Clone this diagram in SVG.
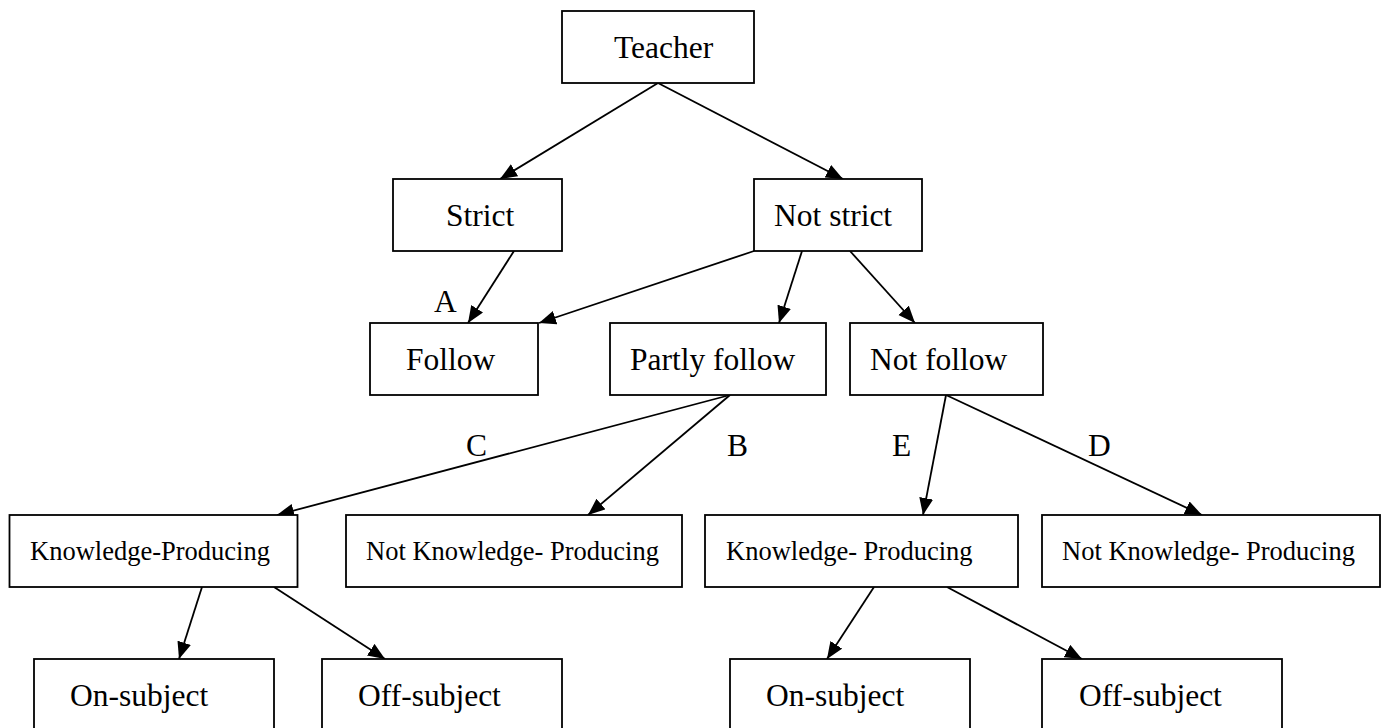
<svg xmlns="http://www.w3.org/2000/svg" width="1385" height="728" viewBox="0 0 1385 728">
  <defs>
    <marker id="arrow" markerUnits="userSpaceOnUse" markerWidth="19" markerHeight="15" refX="17" refY="7" orient="auto">
      <path d="M0,0 L17,7 L0,14 Z" fill="#000"/>
    </marker>
  </defs>
  <style>
    .box { fill: #fff; stroke: #000; stroke-width: 1.8; }
    .lbl { font-family: "Liberation Serif", "Times New Roman", serif; font-size: 31.5px; fill: #000; }
    .sm { font-size: 26.5px; }
    .edge { stroke: #000; stroke-width: 1.8; fill: none; marker-end: url(#arrow); }
  </style>
  <rect width="1385" height="728" fill="#fff"/>

  <!-- connectors -->
  <g id="connectors">
    <line class="edge" x1="658" y1="83" x2="500" y2="179"/>
    <line class="edge" x1="658" y1="83" x2="843" y2="179"/>
    <line class="edge" x1="514" y1="251" x2="468" y2="323"/>
    <line class="edge" x1="754" y1="251" x2="539" y2="323"/>
    <line class="edge" x1="802" y1="251" x2="779" y2="323"/>
    <line class="edge" x1="850" y1="251" x2="915" y2="323"/>
    <line class="edge" x1="730" y1="395" x2="277" y2="515"/>
    <line class="edge" x1="730" y1="395" x2="588" y2="515"/>
    <line class="edge" x1="946" y1="395" x2="923" y2="515"/>
    <line class="edge" x1="946" y1="395" x2="1202" y2="515"/>
    <line class="edge" x1="202" y1="587" x2="179" y2="659"/>
    <line class="edge" x1="274" y1="587" x2="385" y2="659"/>
    <line class="edge" x1="874" y1="587" x2="827" y2="659"/>
    <line class="edge" x1="947" y1="587" x2="1082" y2="659"/>
    <!-- edge labels -->
    <text class="lbl" x="434" y="312">A</text>
    <text class="lbl" x="466" y="456">C</text>
    <text class="lbl" x="727" y="456">B</text>
    <text class="lbl" x="892" y="456">E</text>
    <text class="lbl" x="1088" y="456">D</text>
  </g>

  <g id="teacher">
    <rect class="box" x="562" y="11" width="192" height="72"/>
    <text class="lbl" x="614" y="58">Teacher</text>
  </g>
  <g id="strict">
    <rect class="box" x="393" y="179" width="169" height="72"/>
    <text class="lbl" x="446" y="226">Strict</text>
  </g>
  <g id="not-strict">
    <rect class="box" x="754" y="179" width="168" height="72"/>
    <text class="lbl" x="774" y="226">Not strict</text>
  </g>
  <g id="follow">
    <rect class="box" x="370" y="323" width="168" height="72"/>
    <text class="lbl" x="406" y="370">Follow</text>
  </g>
  <g id="partly-follow">
    <rect class="box" x="610" y="323" width="216" height="72"/>
    <text class="lbl" x="630" y="370">Partly follow</text>
  </g>
  <g id="not-follow">
    <rect class="box" x="850" y="323" width="193" height="72"/>
    <text class="lbl" x="870" y="370">Not follow</text>
  </g>
  <g id="kp-left">
    <rect class="box" x="9.5" y="515" width="288" height="72"/>
    <text class="lbl sm" x="30" y="560">Knowledge-Producing</text>
  </g>
  <g id="nkp-left">
    <rect class="box" x="346" y="515" width="336" height="72"/>
    <text class="lbl sm" x="366" y="560">Not Knowledge- Producing</text>
  </g>
  <g id="kp-right">
    <rect class="box" x="705" y="515" width="313" height="72"/>
    <text class="lbl sm" x="726" y="560">Knowledge- Producing</text>
  </g>
  <g id="nkp-right">
    <rect class="box" x="1042" y="515" width="338" height="72"/>
    <text class="lbl sm" x="1062" y="560">Not Knowledge- Producing</text>
  </g>
  <g id="on-subject-left">
    <rect class="box" x="34" y="659" width="240" height="90"/>
    <text class="lbl" x="70" y="706">On-subject</text>
  </g>
  <g id="off-subject-left">
    <rect class="box" x="322" y="659" width="240" height="90"/>
    <text class="lbl" x="358" y="706">Off-subject</text>
  </g>
  <g id="on-subject-right">
    <rect class="box" x="730" y="659" width="240" height="90"/>
    <text class="lbl" x="766" y="706">On-subject</text>
  </g>
  <g id="off-subject-right">
    <rect class="box" x="1042" y="659" width="240" height="90"/>
    <text class="lbl" x="1079" y="706">Off-subject</text>
  </g>
</svg>
